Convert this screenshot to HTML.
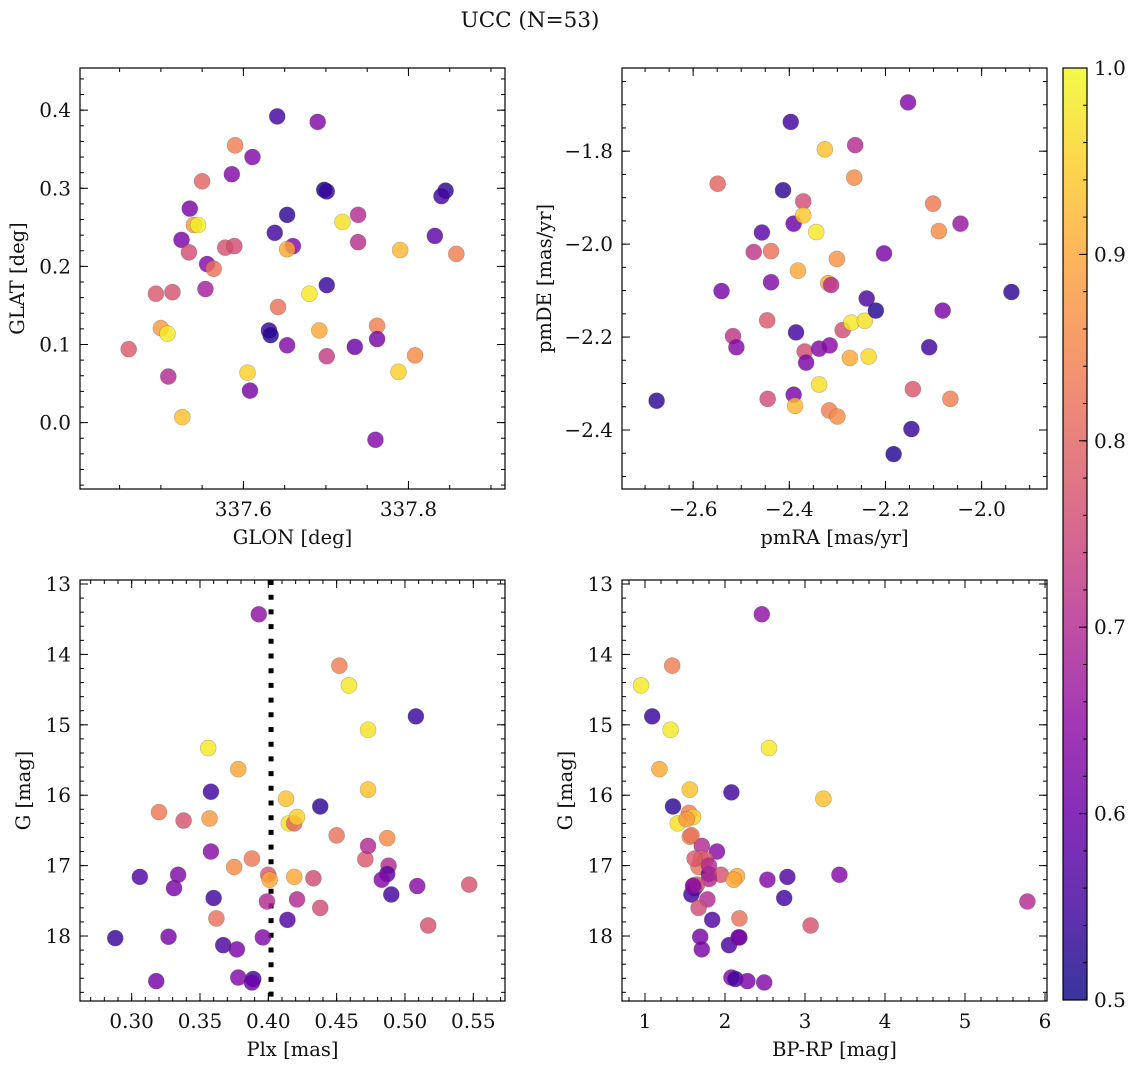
<!DOCTYPE html>
<html><head><meta charset="utf-8"><style>
html,body{margin:0;padding:0;background:#fff;}
svg text{font-family:"DejaVu Serif","Liberation Serif",serif;fill:#111;}
</style></head><body>
<svg id="fig" width="1136" height="1067" viewBox="0 0 1136 1067" xmlns="http://www.w3.org/2000/svg">
<text x="530" y="27" font-size="21.5" text-anchor="middle">UCC (N=53)</text>
</svg>
<script>
// ---- Panel 1: GLON / GLAT ----
const glon = [337.461,337.494,337.514,337.500,337.508,337.509,337.526,337.525,337.534,337.535,337.540,337.545,337.550,337.556,337.554,337.564,337.578,337.589,337.586,337.590,337.611,337.605,337.608,337.638,337.641,337.653,337.660,337.653,337.642,337.631,337.633,337.653,337.690,337.698,337.701,337.701,337.680,337.692,337.701,337.720,337.739,337.739,337.735,337.762,337.762,337.760,337.790,337.788,337.808,337.832,337.845,337.840,337.858];
const glat = [0.094,0.165,0.167,0.121,0.114,0.059,0.007,0.234,0.218,0.274,0.253,0.253,0.309,0.203,0.171,0.197,0.224,0.226,0.318,0.355,0.340,0.064,0.041,0.243,0.392,0.266,0.226,0.222,0.148,0.118,0.112,0.099,0.385,0.298,0.296,0.176,0.165,0.118,0.085,0.257,0.266,0.231,0.097,0.124,0.107,-0.022,0.221,0.065,0.086,0.239,0.297,0.290,0.216];
const prob1 = [0.78,0.78,0.77,0.88,0.98,0.70,0.93,0.62,0.76,0.62,0.88,0.99,0.80,0.63,0.68,0.82,0.77,0.76,0.63,0.84,0.63,0.95,0.62,0.55,0.55,0.53,0.63,0.90,0.82,0.54,0.52,0.63,0.63,0.50,0.54,0.54,0.98,0.90,0.73,0.97,0.70,0.71,0.60,0.84,0.62,0.63,0.92,0.95,0.86,0.58,0.53,0.55,0.84];
const glonTicks = [337.6,337.8];
const glatTicks = [0.0,0.1,0.2,0.3,0.4];
// ---- Panel 2: pmRA / pmDE ----
const pmra = [-2.676,-2.549,-2.541,-2.517,-2.510,-2.457,-2.474,-2.438,-2.438,-2.446,-2.445,-2.397,-2.413,-2.391,-2.371,-2.371,-2.382,-2.386,-2.368,-2.365,-2.391,-2.388,-2.326,-2.344,-2.338,-2.338,-2.316,-2.317,-2.300,-2.301,-2.319,-2.313,-2.289,-2.274,-2.271,-2.243,-2.235,-2.263,-2.265,-2.239,-2.220,-2.203,-2.183,-2.153,-2.146,-2.143,-2.109,-2.081,-2.101,-2.089,-2.044,-2.065,-1.938];
const pmde = [-2.337,-1.870,-2.101,-2.198,-2.222,-1.975,-2.017,-2.015,-2.082,-2.164,-2.333,-1.737,-1.884,-1.956,-1.908,-1.938,-2.057,-2.190,-2.231,-2.255,-2.324,-2.348,-1.796,-1.974,-2.302,-2.225,-2.218,-2.358,-2.371,-2.032,-2.084,-2.088,-2.185,-2.245,-2.169,-2.165,-2.242,-1.787,-1.857,-2.117,-2.143,-2.020,-2.452,-1.695,-2.398,-2.312,-2.222,-2.143,-1.913,-1.972,-1.956,-2.333,-2.103];
const prob2 = [0.53,0.80,0.62,0.72,0.63,0.58,0.72,0.82,0.63,0.78,0.76,0.55,0.53,0.60,0.76,0.94,0.90,0.55,0.76,0.62,0.62,0.92,0.93,0.98,0.97,0.63,0.64,0.84,0.86,0.87,0.90,0.70,0.76,0.90,0.98,0.97,0.96,0.70,0.86,0.56,0.52,0.62,0.52,0.63,0.54,0.78,0.55,0.62,0.83,0.86,0.66,0.84,0.53];
const pmraTicks = [-2.6,-2.4,-2.2,-2.0];
const pmdeTicks = [-1.8,-2.0,-2.2,-2.4];
// ---- Panel 3: Plx / G ----
const plx = [0.288,0.306,0.318,0.320,0.327,0.331,0.334,0.338,0.356,0.358,0.357,0.358,0.360,0.362,0.367,0.377,0.378,0.378,0.375,0.388,0.389,0.388,0.393,0.396,0.399,0.400,0.401,0.413,0.415,0.419,0.421,0.419,0.421,0.414,0.433,0.438,0.438,0.452,0.450,0.459,0.471,0.473,0.473,0.473,0.487,0.488,0.487,0.483,0.490,0.508,0.509,0.517,0.547];
const g3 = [18.03,17.16,18.64,16.24,18.01,17.32,17.13,16.36,15.33,15.95,16.33,16.80,17.46,17.75,18.13,18.19,18.59,15.63,17.02,16.90,18.61,18.66,13.43,18.02,17.51,17.13,17.20,16.05,16.40,16.40,16.31,17.16,17.48,17.77,17.18,17.60,16.16,14.16,16.57,14.44,16.91,16.72,15.07,15.92,16.61,17.00,17.12,17.20,17.41,14.88,17.29,17.85,17.27];
const prob3 = [0.54,0.57,0.61,0.83,0.62,0.62,0.63,0.77,0.98,0.55,0.88,0.64,0.55,0.82,0.56,0.62,0.63,0.90,0.86,0.83,0.55,0.60,0.65,0.63,0.70,0.78,0.90,0.93,0.97,0.80,0.95,0.90,0.70,0.57,0.76,0.76,0.53,0.84,0.82,0.98,0.78,0.70,0.97,0.93,0.86,0.70,0.58,0.63,0.55,0.54,0.64,0.77,0.77];
const plxThreshold = [0.402];
const plxTicks = [0.30,0.35,0.40,0.45,0.50,0.55];
const gTicks = [13,14,15,16,17,18];
// ---- Panel 4: BP-RP / G ----
const bprp = [0.95,1.34,1.09,1.32,1.18,1.56,2.08,2.55,3.23,2.46,1.35,1.55,1.41,1.60,1.52,1.56,1.71,1.90,1.70,1.76,1.67,1.80,1.95,1.80,2.15,2.11,2.53,2.78,3.43,1.61,1.62,1.58,1.78,1.67,2.74,1.84,2.18,3.07,5.78,1.69,1.71,2.05,2.18,2.17,2.08,2.13,2.28,2.49,1.58,1.62,1.65,1.60,1.80];
const g4 = [14.44,14.16,14.88,15.07,15.63,15.92,15.96,15.33,16.05,13.43,16.16,16.25,16.40,16.31,16.34,16.59,16.72,16.80,16.90,16.91,17.02,17.12,17.13,17.19,17.15,17.20,17.20,17.16,17.13,17.28,17.32,17.41,17.48,17.60,17.46,17.77,17.75,17.85,17.51,18.01,18.19,18.13,18.02,18.02,18.59,18.61,18.64,18.66,16.57,16.90,17.27,17.29,17.00];
const prob4 = [0.98,0.84,0.54,0.98,0.90,0.93,0.55,0.98,0.93,0.65,0.53,0.84,0.97,0.95,0.88,0.86,0.70,0.64,0.83,0.78,0.82,0.58,0.77,0.70,0.90,0.90,0.63,0.57,0.63,0.76,0.62,0.55,0.70,0.76,0.55,0.57,0.82,0.77,0.70,0.62,0.62,0.56,0.60,0.62,0.63,0.55,0.62,0.63,0.82,0.78,0.77,0.64,0.70];
const bprpTicks = [1,2,3,4,5,6];
const cbarTicks = [0.5,0.6,0.7,0.8,0.9,1.0];

const NS = "http://www.w3.org/2000/svg";
const svg = document.getElementById('fig');
const TICKFS = 20, LABFS = 19.5;
function mk(tag, attrs, parent){
  const e = document.createElementNS(NS, tag);
  for (const k in attrs) e.setAttribute(k, attrs[k]);
  (parent||svg).appendChild(e);
  return e;
}
const stops = ["#0d0887","#41049d","#6a00a8","#8f0da4","#b12a90","#cc4778","#e16462","#f2844b","#fca636","#fcce25","#f0f921"];
function hex(c){return [parseInt(c.substr(1,2),16),parseInt(c.substr(3,2),16),parseInt(c.substr(5,2),16)];}
function plasma(t){
  t=Math.max(0,Math.min(1,t));
  const f=t*10, i=Math.min(9,Math.floor(f)), u=f-i;
  const a=hex(stops[i]), b=hex(stops[i+1]);
  return "rgb("+a.map((v,k)=>Math.round(v+(b[k]-v)*u)).join(",")+")";
}
function pcolor(p){return plasma((p-0.5)/0.5);}
function fmt(v,d){const s=Math.abs(v).toFixed(d);return (v<0?"\u2212":"")+s;}

function panel(opt){
  const {x0,y0,w,h,xmin,xmax,ymin,ymax,name} = opt;
  const sx = v => x0 + (v-xmin)/(xmax-xmin)*w;
  const sy = opt.invertY ? (v => y0 + (v-ymin)/(ymax-ymin)*h) : (v => y0 + h - (v-ymin)/(ymax-ymin)*h);
  const g = mk('g',{});
  
  
  const tg = mk('g',{stroke:'#000','stroke-width':1},g);
  
  
  const lo=Math.min(xmin,xmax), hi=Math.max(xmin,xmax);
  for(let k=Math.ceil(lo/opt.xminor-1e-6);k*opt.xminor<=hi+1e-9;k++){
    const X=sx(k*opt.xminor);
    mk('line',{x1:X,x2:X,y1:y0,y2:y0+4},tg); mk('line',{x1:X,x2:X,y1:y0+h,y2:y0+h-4},tg);
  }
  const ylo=Math.min(ymin,ymax), yhi=Math.max(ymin,ymax);
  for(let k=Math.ceil(ylo/opt.yminor-1e-6);k*opt.yminor<=yhi+1e-9;k++){
    const Y=sy(k*opt.yminor);
    mk('line',{x1:x0,x2:x0+4,y1:Y,y2:Y},tg); mk('line',{x1:x0+w,x2:x0+w-4,y1:Y,y2:Y},tg);
  }
  opt.xticks.forEach(v=>{
    const X=sx(v);
    mk('line',{x1:X,x2:X,y1:y0,y2:y0+8},tg); mk('line',{x1:X,x2:X,y1:y0+h,y2:y0+h-8},tg);
    const t=mk('text',{x:X,y:y0+h+27,'font-size':TICKFS,'text-anchor':'middle'},g);
    t.textContent=fmt(v,opt.xdec);
    
    
  });
  opt.yticks.forEach(v=>{
    const Y=sy(v);
    mk('line',{x1:x0,x2:x0+8,y1:Y,y2:Y},tg); mk('line',{x1:x0+w,x2:x0+w-8,y1:Y,y2:Y},tg);
    const t=mk('text',{x:x0-9,y:Y+7,'font-size':TICKFS,'text-anchor':'end'},g);
    t.textContent=fmt(v,opt.ydec);
    
    
  });
  if(opt.vline){
    opt.vline.forEach(v=>{
      const l=mk('line',{x1:sx(v),x2:sx(v),y1:y0,y2:y0+h,stroke:'#000','stroke-width':5,'stroke-dasharray':'5 9.7'},g);
      
      
    });
  }
  const pg = mk('g',{},g);
  
  
  opt.xs.forEach((xv,i)=>{
    const c=mk('circle',{cx:sx(xv),cy:sy(opt.ys[i]),r:8,fill:pcolor(opt.ps[i]),'fill-opacity':0.82,stroke:'#444','stroke-opacity':0.35,'stroke-width':0.6},pg);
    
    
  });
  const fr=mk('rect',{x:x0,y:y0,width:w,height:h,fill:'none',stroke:'#000','stroke-width':1.2},g);
  
  
  const xl=mk('text',{x:x0+w/2,y:y0+h+55,'font-size':LABFS,'text-anchor':'middle'},g);
  xl.textContent=opt.xlabel;
  
  
  const yx=opt.ylabX, yy=y0+h/2;
  const yl=mk('text',{x:yx,y:yy,'font-size':LABFS,'text-anchor':'middle',transform:'rotate(-90 '+yx+' '+yy+')'},g);
  yl.textContent=opt.ylabel;
  
  
}

panel({name:'glon-glat',x0:80,y0:68,w:425,h:421,xmin:337.402,xmax:337.917,ymin:-0.085,ymax:0.454,
  xticks:glonTicks,yticks:glatTicks,xminor:0.05,yminor:0.02,xdec:1,ydec:1,
  xs:glon,ys:glat,ps:prob1,xlabel:'GLON [deg]',ylabel:'GLAT [deg]',ylabX:24});
panel({name:'proper-motion',x0:622,y0:68,w:425,h:421,xmin:-2.748,xmax:-1.864,ymin:-2.527,ymax:-1.621,
  xticks:pmraTicks,yticks:pmdeTicks,xminor:0.05,yminor:0.05,xdec:1,ydec:1,
  xs:pmra,ys:pmde,ps:prob2,xlabel:'pmRA [mas/yr]',ylabel:'pmDE [mas/yr]',ylabX:551});
panel({name:'plx-g',x0:80,y0:580,w:425,h:421,xmin:0.2622,xmax:0.5732,ymin:12.943,ymax:18.923,invertY:true,
  xticks:plxTicks,yticks:gTicks,xminor:0.01,yminor:0.2,xdec:2,ydec:0,vline:plxThreshold,
  xs:plx,ys:g3,ps:prob3,xlabel:'Plx [mas]',ylabel:'G [mag]',ylabX:30});
panel({name:'cmd',x0:622,y0:580,w:425,h:421,xmin:0.7125,xmax:6.025,ymin:12.943,ymax:18.923,invertY:true,
  xticks:bprpTicks,yticks:gTicks,xminor:0.2,yminor:0.2,xdec:0,ydec:0,
  xs:bprp,ys:g4,ps:prob4,xlabel:'BP-RP [mag]',ylabel:'G [mag]',ylabX:572});

(function(){
  const cx=1063, cy=68, cw=24, ch=932;
  const cg=mk('g',{});
  
  
  const defs=mk('defs',{},cg);
  const lg=mk('linearGradient',{id:'cb',x1:0,y1:1,x2:0,y2:0},defs);
  for(let i=0;i<=20;i++){mk('stop',{offset:i/20,'stop-color':plasma(i/20),'stop-opacity':0.82},lg);}
  const r=mk('rect',{x:cx,y:cy,width:cw,height:ch,fill:'url(#cb)'},cg);
  
  
  const sy=v=>cy+ch-(v-0.5)/0.5*ch;
  for(let k=50;k<=100;k+=2){const Y=sy(k/100);mk('line',{x1:cx+cw,x2:cx+cw-4,y1:Y,y2:Y,stroke:'#000'},cg);}
  cbarTicks.forEach(v=>{
    const Y=sy(v);
    mk('line',{x1:cx+cw,x2:cx+cw-8,y1:Y,y2:Y,stroke:'#000'},cg);
    const t=mk('text',{x:cx+cw+7,y:Y+7,'font-size':TICKFS},cg);
    t.textContent=v.toFixed(1);
    
    
  });
  mk('rect',{x:cx,y:cy,width:cw,height:ch,fill:'none',stroke:'#000','stroke-width':1.2},cg);
})();
</script>
</body></html>
